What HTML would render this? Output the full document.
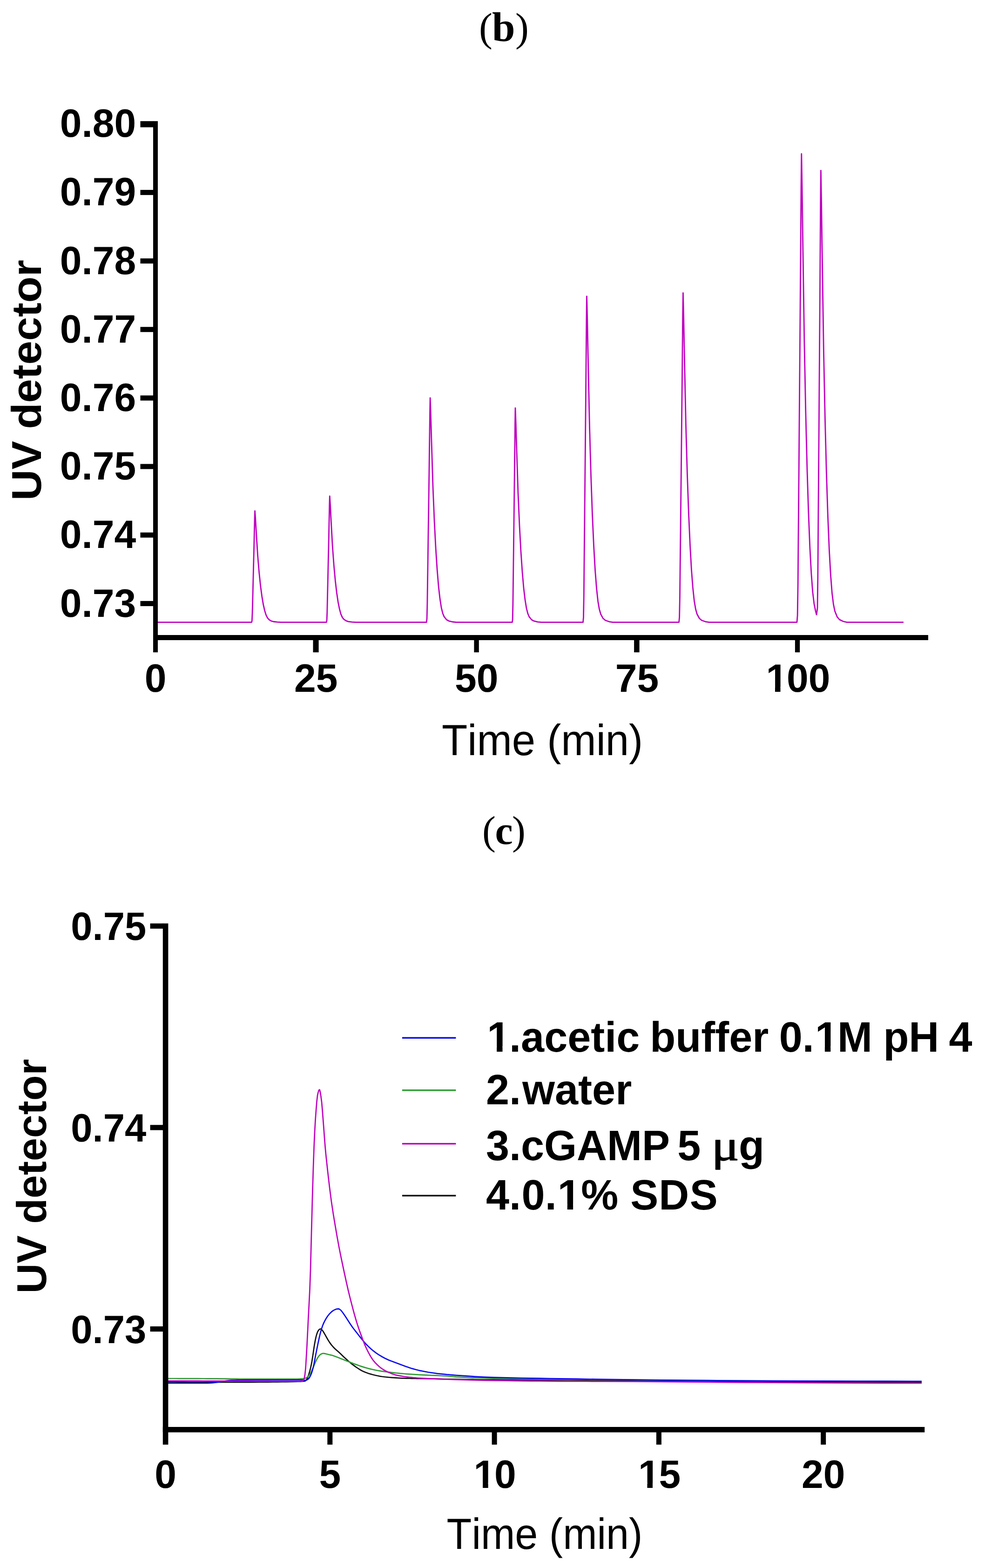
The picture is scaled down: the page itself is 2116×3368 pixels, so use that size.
<!DOCTYPE html>
<html lang="en"><head><meta charset="utf-8"><title>Figure</title>
<style>
html,body{margin:0;padding:0;background:#fff;}
body{width:2116px;height:3368px;overflow:hidden;}
svg{display:block;}
text{font-kerning:none;font-variant-ligatures:none;text-rendering:geometricPrecision;fill:#000;}
.sb{font-family:"Liberation Sans",Arial,Helvetica,sans-serif;font-weight:bold;}
.sr{font-family:"Liberation Sans",Arial,Helvetica,sans-serif;font-weight:normal;}
.pl{font-family:"Liberation Serif","DejaVu Serif",serif;}
.ax{fill:#000;}
.w{fill:#fff;}
.cv{fill:none;stroke-linejoin:round;stroke-linecap:butt;}
</style></head><body>
<svg width="2116" height="3368" viewBox="0 0 2116 3368">
<rect x="0" y="0" width="2116" height="3368" fill="#ffffff"/>
<text class="pl" y="88"><tspan x="1029" font-size="86.7">(</tspan><tspan x="1057" font-size="89" font-weight="bold">b</tspan><tspan x="1107" font-size="86.7">)</tspan></text>
<g id="chart-b">
<path class="cv" d="M335 1336.7 L540.5 1336.7 L541.35 1333.11 L542.06 1317.56 L543.34 1267.33 L545.65 1175.24 L547.03 1114.24 L547.6 1097.5 L548.8 1114.24 L550.6 1145.34 L553.6 1193.18 L556.6 1229.06 L559.6 1257.76 L562.6 1280.49 L565.6 1298.43 L568.6 1311.58 L571.6 1321.15 L574.6 1327.13 L577.6 1330.72 L582.6 1333.83 L587.6 1335.26 L595.6 1336.22 L603.6 1336.7 L701.2 1336.7 L702.05 1332.63 L702.76 1315.01 L704.04 1258.08 L706.35 1153.71 L707.73 1084.58 L708.3 1065.6 L709.5 1084.58 L711.3 1119.82 L714.3 1174.04 L717.3 1214.7 L720.3 1247.24 L723.3 1272.99 L726.3 1293.32 L729.3 1308.23 L732.3 1319.08 L735.3 1325.86 L738.3 1329.92 L743.3 1333.45 L748.3 1335.07 L756.3 1336.16 L764.3 1336.7 L916.1 1336.7 L917.06 1329.47 L917.86 1298.14 L919.3 1196.92 L921.9 1011.35 L923.46 888.44 L924.1 854.7 L925.3 888.44 L927.1 951.1 L930.1 1047.5 L933.1 1119.8 L936.1 1177.64 L939.1 1223.43 L942.1 1259.58 L945.1 1286.09 L948.1 1305.37 L951.1 1317.42 L954.1 1324.65 L959.1 1330.92 L964.1 1333.81 L972.1 1335.74 L980.1 1336.7 L1100.4 1336.7 L1101.19 1329.79 L1101.85 1299.87 L1103.04 1203.18 L1105.18 1025.93 L1106.47 908.53 L1107 876.3 L1108.2 908.53 L1110 968.38 L1113 1060.46 L1116 1129.52 L1119 1184.77 L1122 1228.51 L1125 1263.04 L1128 1288.36 L1131 1306.77 L1134 1318.28 L1137 1325.19 L1142 1331.18 L1147 1333.94 L1155 1335.78 L1163 1336.7 L1252.5 1336.7 L1253.46 1326.2 L1254.26 1280.68 L1255.7 1133.61 L1258.3 864 L1259.86 685.42 L1260.5 636.4 L1261.7 685.42 L1263.5 776.46 L1266.5 916.52 L1269.5 1021.57 L1272.5 1105.6 L1275.5 1172.13 L1278.5 1224.65 L1281.5 1263.17 L1284.5 1291.18 L1287.5 1308.69 L1290.5 1319.19 L1295.5 1328.3 L1300.5 1332.5 L1308.5 1335.3 L1316.5 1336.7 L1458.5 1336.7 L1459.57 1326.09 L1460.46 1280.1 L1462.06 1131.53 L1464.95 859.14 L1466.69 678.73 L1467.4 629.2 L1468.6 678.73 L1470.4 770.7 L1473.4 912.2 L1476.4 1018.33 L1479.4 1103.22 L1482.4 1170.44 L1485.4 1223.5 L1488.4 1262.41 L1491.4 1290.71 L1494.4 1308.4 L1497.4 1319.01 L1502.4 1328.21 L1507.4 1332.46 L1515.4 1335.29 L1523.4 1336.7 L1712 1336.7 L1713.18 1321.61 L1714.16 1256.2 L1715.92 1044.9 L1719.11 657.51 L1721.02 400.93 L1721.8 330.5 L1723 400.93 L1724.8 531.74 L1727.8 732.98 L1730.8 883.91 L1733.8 1004.65 L1736.8 1100.24 L1739.8 1175.71 L1742.8 1231.05 L1745.8 1271.3 L1748.8 1296.45 L1751.8 1311.55 L1754.1 1320.3 L1756.01 1305.99 L1756.85 1243.97 L1758.36 1043.61 L1761.09 676.28 L1762.73 432.99 L1763.4 366.2 L1764.6 434.13 L1766.4 560.3 L1769.4 754.4 L1772.4 899.98 L1775.4 1016.43 L1778.4 1108.63 L1781.4 1181.42 L1784.4 1234.8 L1787.4 1273.62 L1790.4 1297.88 L1793.4 1312.44 L1798.4 1325.05 L1803.4 1330.88 L1811.4 1334.76 L1819.4 1336.7 L1941 1336.7" stroke="#BE00BE" stroke-width="2.8"/>
<rect class="ax" x="329" y="260.2" width="10" height="1141"/>
<rect class="ax" x="329" y="1364" width="1665" height="11"/>
<rect class="ax" x="301.5" y="260.2" width="28.5" height="13.2"/>
<rect class="ax" x="301.5" y="407.88" width="28.5" height="11"/>
<rect class="ax" x="301.5" y="555.05" width="28.5" height="11"/>
<rect class="ax" x="301.5" y="702.22" width="28.5" height="11"/>
<rect class="ax" x="301.5" y="849.39" width="28.5" height="11"/>
<rect class="ax" x="301.5" y="996.56" width="28.5" height="11"/>
<rect class="ax" x="301.5" y="1143.73" width="28.5" height="11"/>
<rect class="ax" x="301.5" y="1290.9" width="28.5" height="11"/>
<rect class="ax" x="672.5" y="1364" width="12.1" height="37.2"/>
<rect class="ax" x="1018.4" y="1364" width="10.4" height="37.2"/>
<rect class="ax" x="1362.1" y="1364" width="11.5" height="37.2"/>
<rect class="ax" x="1707.9" y="1364" width="10.3" height="37.2"/>
<text class="sb" transform="translate(292.2 294.31) scale(1 1.015)" font-size="84" text-anchor="end">0.80</text>
<text class="sb" transform="translate(292.2 441.48) scale(1 1.015)" font-size="84" text-anchor="end">0.79</text>
<text class="sb" transform="translate(292.2 588.65) scale(1 1.015)" font-size="84" text-anchor="end">0.78</text>
<text class="sb" transform="translate(292.2 735.82) scale(1 1.015)" font-size="84" text-anchor="end">0.77</text>
<text class="sb" transform="translate(292.2 882.99) scale(1 1.015)" font-size="84" text-anchor="end">0.76</text>
<text class="sb" transform="translate(292.2 1030.16) scale(1 1.015)" font-size="84" text-anchor="end">0.75</text>
<text class="sb" transform="translate(292.2 1177.33) scale(1 1.015)" font-size="84" text-anchor="end">0.74</text>
<text class="sb" transform="translate(292.2 1324.5) scale(1 1.015)" font-size="84" text-anchor="end">0.73</text>
<text class="sb" transform="translate(334 1486.2) scale(1 1.015)" font-size="84" text-anchor="middle">0</text>
<text class="sb" transform="translate(678.83 1486.2) scale(1 1.015)" font-size="84" text-anchor="middle">25</text>
<text class="sb" transform="translate(1023.65 1486.2) scale(1 1.015)" font-size="84" text-anchor="middle">50</text>
<text class="sb" transform="translate(1368.47 1486.2) scale(1 1.015)" font-size="84" text-anchor="middle">75</text>
<g transform="translate(1643.24 1486.2) scale(1 1.015)">
<text class="sb" font-size="84"><tspan dx="2.2">1</tspan><tspan dx="-2.2">0</tspan>0</text>
<rect class="w" x="5.56" y="-10.5" width="16.17" height="12.18"/>
<rect class="w" x="33.28" y="-10.5" width="15.12" height="12.18"/>
</g>
<text class="sr" transform="translate(1165.1 1622.3) scale(0.994 1.03)" font-size="91" text-anchor="middle">Time (min)</text>
<text class="sb" transform="translate(88.2 816.5) rotate(-90) scale(1.012 0.986)" font-size="91" text-anchor="middle">UV detector</text>
</g>
<text class="pl" y="1812.5"><tspan x="1036" font-size="86.7">(</tspan><tspan x="1063.6" font-size="86" font-weight="bold">c</tspan><tspan x="1100" font-size="86.7">)</tspan></text>
<g id="chart-c">
<path class="cv" d="M356 2968.2 L366 2968.34 L376 2968.46 L386 2968.56 L396 2968.65 L406 2968.73 L416 2968.79 L426 2968.85 L436 2968.89 L446 2968.92 L456 2968.95 L466 2968.97 L476 2968.98 L486 2968.99 L496 2969 L506 2969 L516 2969 L526 2968.99 L536 2968.95 L546 2968.87 L556 2968.77 L566 2968.66 L576 2968.55 L586 2968.43 L596 2968.32 L606 2968.2 L616 2968.05 L626 2967.86 L636 2967.62 L640 2967.5 L641.5 2967.46 L643 2967.41 L644.5 2967.36 L646 2967.29 L647.5 2967.22 L649 2967.13 L650.5 2967.01 L652 2966.87 L653.5 2966.7 L655 2966.5 L656.5 2965.71 L658 2964.01 L659.5 2961.79 L661 2958.99 L662.5 2954.82 L664 2950 L665.5 2944.84 L667 2939 L668.5 2932.39 L670 2924.57 L671.5 2915.18 L673 2905.33 L674.5 2894.91 L676 2885.73 L677.5 2877.69 L679 2871 L680.5 2865.61 L682 2861.43 L683.5 2858.54 L685 2856.44 L686.5 2855.29 L688 2854.53 L689.5 2854.6 L691 2855.91 L692.5 2857.55 L694 2859.59 L695.5 2862.02 L697 2864.6 L698.5 2867.14 L700 2869.82 L704 2877 L708 2883.36 L712 2888.88 L716 2893.44 L720 2897.47 L724 2901.04 L728 2904.54 L732 2908.33 L736 2912.15 L740 2915.92 L744 2919.61 L748 2923.15 L752 2926.59 L756 2929.84 L760 2932.9 L764 2935.79 L768 2938.5 L772 2941.09 L776 2943.52 L780 2945.6 L784 2947.32 L788 2948.84 L792 2950.18 L796 2951.41 L800 2952.54 L804 2953.55 L808 2954.45 L812 2955.29 L816 2956.06 L820 2956.72 L824 2957.26 L828 2957.73 L832 2958.15 L836 2958.52 L840 2958.84 L844 2959.13 L848 2959.4 L852 2959.65 L856 2959.89 L860 2960.1 L864 2960.28 L868 2960.43 L872 2960.56 L876 2960.67 L880 2960.77 L884 2960.86 L888 2960.94 L892 2961.02 L896 2961.09 L900 2961.15 L920 2961.5 L940 2961.9 L960 2962.31 L980 2962.69 L1000 2963 L1020 2963.25 L1040 2963.48 L1060 2963.69 L1080 2963.86 L1100 2964 L1120 2964.11 L1140 2964.2 L1160 2964.28 L1180 2964.35 L1200 2964.41 L1220 2964.48 L1240 2964.54 L1260 2964.62 L1280 2964.7 L1300 2964.8 L1360 2965.23 L1420 2965.79 L1480 2966.34 L1540 2966.79 L1600 2967.22 L1660 2967.59 L1720 2967.89 L1780 2968.16 L1840 2968.4 L1900 2968.6 L1960 2968.76 L1980 2968.8" stroke="#111111" stroke-width="2.7"/>
<path class="cv" d="M356 2961 L366 2961 L376 2961.02 L386 2961.04 L396 2961.07 L406 2961.1 L416 2961.14 L426 2961.19 L436 2961.23 L446 2961.28 L456 2961.34 L466 2961.44 L476 2961.57 L486 2961.71 L496 2961.84 L506 2961.94 L516 2961.99 L526 2962 L536 2962 L546 2962 L556 2962 L566 2962 L576 2962 L586 2962 L596 2962 L606 2962 L616 2962 L626 2962 L636 2962 L640 2962 L641.5 2961.97 L643 2961.91 L644.5 2961.82 L646 2961.72 L647.5 2961.62 L649 2961.54 L650.5 2961.5 L652 2961.5 L653.5 2961.32 L655 2960.84 L656.5 2960.13 L658 2959.27 L659.5 2958.32 L661 2957.27 L662.5 2955.86 L664 2954.13 L665.5 2952.14 L667 2949.88 L668.5 2946.96 L670 2943.6 L671.5 2940.13 L673 2936.71 L674.5 2933.11 L676 2929.54 L677.5 2926.18 L679 2922.94 L680.5 2919.92 L682 2917.23 L683.5 2914.77 L685 2912.76 L686.5 2911.08 L688 2909.68 L689.5 2908.72 L691 2907.9 L692.5 2907.27 L694 2907 L695.5 2907.09 L697 2907.34 L698.5 2907.67 L700 2908 L704 2908.99 L708 2909.95 L712 2910.82 L716 2911.95 L720 2913.43 L724 2915 L728 2916.56 L732 2918.16 L736 2919.76 L740 2921.34 L744 2922.93 L748 2924.5 L752 2926.06 L756 2927.62 L760 2929.14 L764 2930.62 L768 2932.08 L772 2933.5 L776 2934.86 L780 2936.13 L784 2937.36 L788 2938.53 L792 2939.63 L796 2940.62 L800 2941.54 L804 2942.41 L808 2943.22 L812 2943.98 L816 2944.67 L820 2945.31 L824 2945.9 L828 2946.44 L832 2946.95 L836 2947.44 L840 2947.91 L844 2948.37 L848 2948.82 L852 2949.25 L856 2949.67 L860 2950.06 L864 2950.42 L868 2950.75 L872 2951.06 L876 2951.35 L880 2951.64 L884 2951.9 L888 2952.16 L892 2952.4 L896 2952.63 L900 2952.86 L920 2953.87 L940 2954.63 L960 2955.76 L980 2957.6 L1000 2958.59 L1020 2959.37 L1040 2960.01 L1060 2960.58 L1080 2961.13 L1100 2961.62 L1120 2962.05 L1140 2962.38 L1160 2962.6 L1180 2962.77 L1200 2962.91 L1220 2963.03 L1240 2963.14 L1260 2963.25 L1280 2963.36 L1300 2963.5 L1360 2964 L1420 2964.54 L1480 2965.05 L1540 2965.48 L1600 2965.89 L1660 2966.24 L1720 2966.46 L1780 2966.65 L1840 2966.81 L1900 2966.93 L1960 2967 L1980 2967" stroke="#2E9B33" stroke-width="2.7"/>
<path class="cv" d="M356 2971 L366 2971 L376 2971 L386 2971 L396 2971 L406 2971 L416 2971 L426 2971 L436 2971 L446 2970.9 L456 2970.42 L466 2969.17 L476 2967.36 L486 2965.89 L496 2964.95 L506 2964.49 L516 2964.23 L526 2964.2 L536 2964.2 L546 2964.2 L556 2964.2 L566 2964.2 L576 2964.2 L586 2964.2 L596 2964.2 L606 2964.2 L616 2964.2 L626 2964.2 L636 2964.2 L640 2964.2 L641.5 2964.2 L643 2964.2 L644.5 2964.2 L646 2964.2 L647.5 2964.2 L649 2964.2 L650.5 2964.2 L652 2964.2 L653.5 2964.55 L655 2964.98 L656.5 2964.89 L658 2964.47 L659.5 2963.8 L661 2962.96 L662.5 2961.94 L664 2960.18 L665.5 2957.74 L667 2954.9 L668.5 2951.53 L670 2947.25 L671.5 2942.24 L673 2936.62 L674.5 2929.59 L676 2921.65 L677.5 2913.71 L679 2906.2 L680.5 2898.66 L682 2891.27 L683.5 2884.15 L685 2877.1 L686.5 2870.32 L688 2864.13 L689.5 2858.66 L691 2853.61 L692.5 2849.06 L694 2845.11 L695.5 2841.66 L697 2838.57 L698.5 2835.73 L700 2833.04 L704 2826.77 L708 2821.85 L712 2817.92 L716 2814.86 L720 2812.83 L724 2811.54 L728 2811.29 L732 2814 L736 2819 L740 2824.74 L744 2830.77 L748 2836.96 L752 2843.15 L756 2849.12 L760 2854.54 L764 2859.68 L768 2864.73 L772 2869.86 L776 2875.01 L780 2879.95 L784 2884.51 L788 2888.8 L792 2892.83 L796 2896.53 L800 2899.95 L804 2903.13 L808 2906.08 L812 2908.82 L816 2911.39 L820 2913.78 L824 2916 L828 2918.09 L832 2920.02 L836 2921.78 L840 2923.32 L844 2924.75 L848 2926.17 L852 2927.66 L856 2929.2 L860 2930.76 L864 2932.29 L868 2933.75 L872 2935.19 L876 2936.59 L880 2937.94 L884 2939.2 L888 2940.37 L892 2941.49 L896 2942.56 L900 2943.56 L920 2947.48 L940 2950.36 L960 2952.45 L980 2954.08 L1000 2955.47 L1020 2956.79 L1040 2957.89 L1060 2958.63 L1080 2959.17 L1100 2959.61 L1120 2960 L1140 2960.36 L1160 2960.68 L1180 2960.98 L1200 2961.3 L1220 2961.64 L1240 2961.97 L1260 2962.3 L1280 2962.62 L1300 2962.93 L1360 2963.67 L1420 2964.3 L1480 2964.84 L1540 2965.31 L1600 2965.76 L1660 2966.12 L1720 2966.37 L1780 2966.59 L1840 2966.77 L1900 2966.91 L1960 2966.99 L1980 2967" stroke="#0A0AF0" stroke-width="2.7"/>
<path class="cv" d="M356 2966 L366 2966.03 L376 2966.05 L386 2966.08 L396 2966.11 L406 2966.15 L416 2966.18 L426 2966.21 L436 2966.25 L446 2966.29 L456 2966.32 L466 2966.36 L476 2966.4 L486 2966.44 L496 2966.48 L506 2966.53 L516 2966.58 L526 2966.64 L536 2966.71 L546 2966.78 L556 2966.84 L566 2966.9 L576 2966.95 L586 2966.98 L596 2967 L606 2967 L616 2967 L626 2967 L636 2967 L640 2967 L641.5 2967 L643 2966.98 L644.5 2966.96 L646 2966.92 L647.5 2966.87 L649 2966.8 L650.5 2965.96 L652 2963.87 L653.5 2960.68 L655 2953.36 L656.5 2939.29 L658 2915.28 L659.5 2888.96 L661 2858.8 L662.5 2828.01 L664 2799.88 L665.5 2769.68 L667 2727.95 L668.5 2669.22 L670 2612.16 L671.5 2556.61 L673 2508.67 L674.5 2465.71 L676 2432.07 L677.5 2406.01 L679 2385 L680.5 2366.46 L682 2353.04 L683.5 2346.34 L685 2341.65 L686.5 2340.47 L688 2345.68 L689.5 2355.45 L691 2366.99 L692.5 2383.97 L694 2403.64 L695.5 2423.06 L697 2443.75 L698.5 2462.93 L700 2479.05 L704 2516.25 L708 2550.65 L712 2581.61 L716 2607.93 L720 2632 L724 2655.37 L728 2677.37 L732 2697.61 L736 2716.64 L740 2735.35 L744 2753.75 L748 2771.33 L752 2787.72 L756 2803.24 L760 2818.39 L764 2832.72 L768 2845.59 L772 2857.46 L776 2868.55 L780 2879.32 L784 2889.38 L788 2898.2 L792 2906.03 L796 2913.25 L800 2919.58 L804 2924.73 L808 2929.05 L812 2932.96 L816 2936.47 L820 2939.56 L824 2942.24 L828 2944.51 L832 2946.52 L836 2948.38 L840 2950.06 L844 2951.55 L848 2952.82 L852 2953.87 L856 2954.69 L860 2955.42 L864 2956.1 L868 2956.72 L872 2957.28 L876 2957.8 L880 2958.27 L884 2958.69 L888 2959.08 L892 2959.42 L896 2959.73 L900 2960.01 L920 2961.13 L940 2961.96 L960 2962.67 L980 2963.31 L1000 2963.89 L1020 2964.39 L1040 2964.82 L1060 2965.17 L1080 2965.49 L1100 2965.79 L1120 2966.06 L1140 2966.3 L1160 2966.51 L1180 2966.68 L1200 2966.8 L1220 2966.89 L1240 2966.95 L1260 2967.01 L1280 2967.06 L1300 2967.12 L1360 2967.42 L1420 2967.86 L1480 2968.35 L1540 2968.81 L1600 2969.31 L1660 2969.76 L1720 2970.1 L1780 2970.38 L1840 2970.63 L1900 2970.83 L1960 2970.97 L1980 2971" stroke="#BE00BE" stroke-width="2.7"/>
<rect class="ax" x="349.8" y="1983.5" width="11.6" height="1119.5"/>
<rect class="ax" x="349.8" y="3065" width="1636.5" height="11.6"/>
<rect class="ax" x="322.6" y="1983.5" width="28.2" height="11.2"/>
<rect class="ax" x="322.6" y="2416.3" width="28.2" height="11.2"/>
<rect class="ax" x="322.6" y="2849" width="28.2" height="11.2"/>
<rect class="ax" x="703.3" y="3065" width="11" height="38"/>
<rect class="ax" x="1056.6" y="3065" width="11" height="38"/>
<rect class="ax" x="1409.9" y="3065" width="11" height="38"/>
<rect class="ax" x="1763.2" y="3065" width="11" height="38"/>
<text class="sb" transform="translate(314.2 2019.4) scale(0.99 1.015)" font-size="84" text-anchor="end">0.75</text>
<text class="sb" transform="translate(314.2 2452.1) scale(0.99 1.015)" font-size="84" text-anchor="end">0.74</text>
<text class="sb" transform="translate(314.2 2884.8) scale(0.99 1.015)" font-size="84" text-anchor="end">0.73</text>
<text class="sb" transform="translate(355.5 3195.8) scale(1 1.015)" font-size="84" text-anchor="middle">0</text>
<text class="sb" transform="translate(708.8 3195.8) scale(1 1.015)" font-size="84" text-anchor="middle">5</text>
<g transform="translate(1015.4 3195.8) scale(1 1.015)">
<text class="sb" font-size="84"><tspan dx="2.2">1</tspan><tspan dx="-2.2">0</tspan></text>
<rect class="w" x="5.56" y="-10.5" width="16.17" height="12.18"/>
<rect class="w" x="33.28" y="-10.5" width="15.12" height="12.18"/>
</g>
<g transform="translate(1368.7 3195.8) scale(1 1.015)">
<text class="sb" font-size="84"><tspan dx="2.2">1</tspan><tspan dx="-2.2">5</tspan></text>
<rect class="w" x="5.56" y="-10.5" width="16.17" height="12.18"/>
<rect class="w" x="33.28" y="-10.5" width="15.12" height="12.18"/>
</g>
<text class="sb" transform="translate(1768.7 3195.8) scale(1 1.015)" font-size="84" text-anchor="middle">20</text>
<text class="sr" transform="translate(1170 3327.2) scale(0.968 1.03)" font-size="91" text-anchor="middle">Time (min)</text>
<text class="sb" transform="translate(99 2526.5) rotate(-90) scale(0.9866 0.985)" font-size="91" text-anchor="middle">UV detector</text>
<rect x="863.9" y="2227.6" width="115.5" height="3.4" fill="#0A0AF0"/>
<rect x="863.9" y="2340.1" width="115.5" height="3.4" fill="#2E9B33"/>
<rect x="863.9" y="2455" width="115.5" height="3.4" fill="#BE00BE"/>
<rect x="863.9" y="2566.5" width="115.5" height="3.4" fill="#111111"/>
<g transform="translate(1044 2258.9) scale(1 1.016)">
<text class="sb" font-size="90"><tspan dx="2.2">1</tspan><tspan dx="-2.2">.</tspan>acetic<tspan dx="-3"> buffer</tspan><tspan dx="-2.5"> 0.</tspan><tspan dx="2.2">1</tspan><tspan dx="-2.2">M</tspan><tspan dx="-1.5"> pH</tspan><tspan dx="-4"> 4</tspan></text>
<rect class="w" x="5.8" y="-11.25" width="17.32" height="13.05"/>
<rect class="w" x="35.5" y="-11.25" width="16.2" height="13.05"/>
<rect class="w" x="710.58" y="-11.25" width="17.32" height="13.05"/>
<rect class="w" x="740.28" y="-11.25" width="16.2" height="13.05"/>
</g>
<text class="sb" transform="translate(1044 2371.5) scale(1 1.016)" font-size="90">2.<tspan dx="3">water</tspan></text>
<text class="sb" transform="translate(1044 2492.4) scale(1 1.016)" font-size="90">3.cGAMP<tspan dx="-9"> 5</tspan> <tspan class="pl" x="484.8" font-size="92" font-weight="normal" stroke="#000" stroke-width="1.6" stroke-linejoin="round" textLength="59" lengthAdjust="spacingAndGlyphs">μ</tspan><tspan x="543">g</tspan></text>
<g transform="translate(1044 2598.1) scale(1 1.016)">
<text class="sb" font-size="90">4.<tspan dx="1.5">0</tspan>.<tspan dx="2.2">1</tspan><tspan dx="0.3">%</tspan><tspan dx="1"> S</tspan><tspan dx="1">D</tspan><tspan dx="1.5">S</tspan></text>
<rect class="w" x="157.42" y="-11.25" width="17.32" height="13.05"/>
<rect class="w" x="187.12" y="-11.25" width="16.2" height="13.05"/>
</g>
</g>
</svg>
</body></html>
